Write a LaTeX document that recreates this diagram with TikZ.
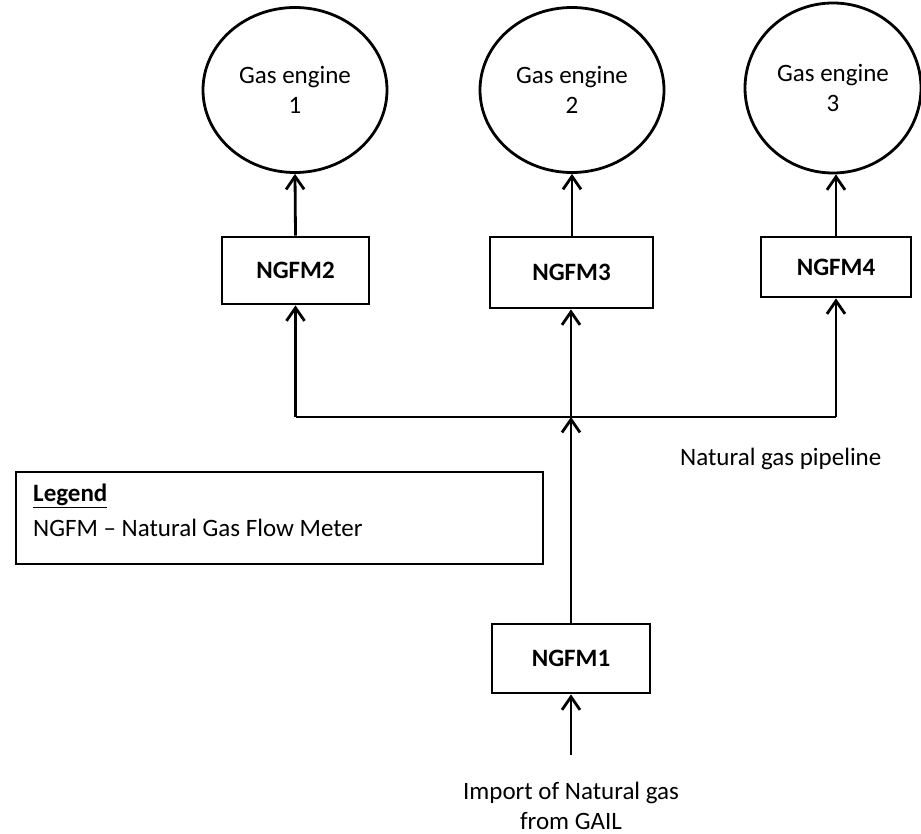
\documentclass[tikz,border=0pt]{standalone}
\usepackage{fontspec}
\setmainfont{Carlito}
\usetikzlibrary{arrows.meta,shapes.geometric}
\begin{document}
\begin{tikzpicture}[x=1pt,y=-1pt,
  txt/.style={font=\fontsize{25}{30}\selectfont, align=center, inner sep=0pt},
  engine/.style={draw, line width=2.8pt, ellipse, txt, minimum width=184pt, minimum height=165pt},
  meter/.style={draw, line width=2.8pt, rectangle, inner sep=0pt, font=\bfseries\fontsize{25}{30}\selectfont},
  pipe/.style={line width=2.8pt},
  arr/.style={pipe, -{Straight Barb[length=13pt,width=18pt]}}]
\useasboundingbox (0,0) rectangle (921,834);
% engines
\node[engine] (e1) at (295,90) {Gas engine\\1};
\node[engine] (e2) at (572,90) {Gas engine\\2};
\node[engine, minimum width=176pt, minimum height=170pt] (e3) at (833,88) {Gas engine\\3};
% meters
\node[meter, minimum width=147pt, minimum height=67pt] (m2) at (295.5,270.5) {NGFM2};
\node[meter, minimum width=163pt, minimum height=71pt] (m3) at (571.5,272.5) {NGFM3};
\node[meter, minimum width=150pt, minimum height=60pt] (m4) at (836,267) {NGFM4};
\node[meter, minimum width=158pt, minimum height=69pt] (m1) at (571,658.5) {NGFM1};
% junction points
\coordinate (jc) at (571,417);
\coordinate (jl) at (295.5,417);
\coordinate (jr) at (836,417);
\coordinate (src) at (571,755);
% connectors
\draw[arr] (m2.north) -- (e1.south);
\draw[arr] (m3.north -| e2.south) -- (e2.south);
\draw[arr] (m4.north) -- (m4.north |- e3.south);
\draw[pipe] (jl) -- (jr);
\draw[arr] (jl) -- (m2.south);
\draw[arr] (jr) -- (m4.south);
\draw[arr] (jc) -- (m3.south -| jc);
\draw[arr] (m1.north) -- (jc);
\draw[arr] (src) -- (m1.south);
% labels
\node[txt, anchor=west] (pl) at (680,459) {Natural gas pipeline};
\node[txt] (imp) at (571,806) {Import of Natural gas\\from GAIL};
% legend
\node[draw, line width=2.8pt, minimum width=527pt, minimum height=92pt, inner sep=0pt] (leg) at (279.5,518) {};
\node[txt, anchor=west, font=\bfseries\fontsize{25}{30}\selectfont] (legt) at (33,496) {\underline{Legend}};
\node[txt, anchor=west] (legd) at (33,528) {NGFM – Natural Gas Flow Meter};
\end{tikzpicture}
\end{document}
